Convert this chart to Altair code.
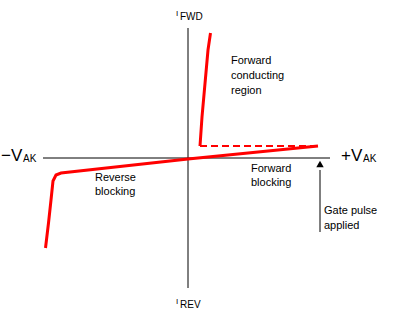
import altair as alt
import pandas as pd

# Schematic units: origin at the axes crossing
conduct_v = [1.2, 1.4, 2.0, 2.25]
conduct_i = [1.2, 4.1, 10.8, 12.5]
block_v = [-14.25, -13.95, -13.7, -13.5, -13.2, -12.7, 0.0, 13.0]
block_i = [-9.0, -6.5, -4.2, -2.3, -1.7, -1.5, -0.1, 1.2]
latch_v = [1.2, 12.8]
latch_i = [1.2, 1.2]

axis_h_v = [-14.5, 14.2]
axis_v_i = [-13.0, 13.0]

gate_v = 13.2
gate_i = [-1.2, -7.4]
gate_tip_i = -0.6

label_text = ["Forward", "conducting", "region", "Reverse", "blocking",
              "Forward", "blocking", "Gate pulse", "applied"]
label_v = [4.3, 4.3, 4.3, -9.3, -9.3, 6.3, 6.3, 13.6, 13.6]
label_i = [9.7, 8.2, 6.7, -2.0, -3.4, -1.1, -2.5, -5.3, -6.8]

big_text = ["\u2212V", "+V"]
big_v = [-18.7, 15.3]
big_i = [-0.25, -0.25]
sub_text = ["AK", "AK"]
sub_v = [-16.5, 17.5]
sub_i = [-0.35, -0.35]
cur_text = ["FWD", "REV"]
cur_v = [-0.8, -0.8]
cur_i = [14.15, -14.7]
small_text = ["I", "I"]
small_v = [-1.2, -1.2]
small_i = [14.4, -14.4]

xs = alt.Scale(domain=[-18.8, 20.6], nice=False, zero=False)
ys = alt.Scale(domain=[-15.8, 15.8], nice=False, zero=False)


def X(field="v"):
    return alt.X(f"{field}:Q", scale=xs, axis=None)


def Y(field="i"):
    return alt.Y(f"{field}:Q", scale=ys, axis=None)


conduct = pd.DataFrame({"v": conduct_v, "i": conduct_i, "o": range(len(conduct_v))})
block = pd.DataFrame({"v": block_v, "i": block_i, "o": range(len(block_v))})
latch = pd.DataFrame({"v": latch_v, "i": latch_i})

haxis = pd.DataFrame({"v": axis_h_v, "i": [0.0, 0.0]})
vaxis = pd.DataFrame({"v": [0.0, 0.0], "i": axis_v_i})
gate = pd.DataFrame({"v": [gate_v, gate_v], "i": gate_i})
tip = pd.DataFrame({"v": [gate_v], "i": [gate_tip_i]})

labels = pd.DataFrame({"t": label_text, "v": label_v, "i": label_i})
bigs = pd.DataFrame({"t": big_text, "v": big_v, "i": big_i})
subs = pd.DataFrame({"t": sub_text, "v": sub_v, "i": sub_i})
curs = pd.DataFrame({"t": cur_text, "v": cur_v, "i": cur_i})
smalls = pd.DataFrame({"t": small_text, "v": small_v, "i": small_i})

font = "Liberation Sans"

axes = (
    alt.Chart(haxis).mark_line(color="black", strokeWidth=1).encode(x=X(), y=Y())
    + alt.Chart(vaxis).mark_line(color="black", strokeWidth=1).encode(x=X(), y=Y())
)

red = "#ff0000"
curves = (
    alt.Chart(block).mark_line(color=red, strokeWidth=3).encode(x=X(), y=Y(), order="o:Q")
    + alt.Chart(conduct).mark_line(color=red, strokeWidth=3).encode(x=X(), y=Y(), order="o:Q")
    + alt.Chart(latch).mark_line(color=red, strokeWidth=2, strokeDash=[7, 4]).encode(x=X(), y=Y())
)

arrow = (
    alt.Chart(gate).mark_line(color="black", strokeWidth=1).encode(x=X(), y=Y())
    + alt.Chart(tip).mark_point(shape="triangle-up", filled=True, color="black", size=55, opacity=1).encode(x=X(), y=Y())
)

texts = (
    alt.Chart(labels).mark_text(align="left", baseline="middle", font=font, fontSize=11, color="black").encode(x=X(), y=Y(), text="t:N")
    + alt.Chart(bigs).mark_text(align="left", baseline="alphabetic", font=font, fontSize=17, color="black").encode(x=X(), y=Y(), text="t:N")
    + alt.Chart(subs).mark_text(align="left", baseline="alphabetic", font=font, fontSize=10, color="black").encode(x=X(), y=Y(), text="t:N")
    + alt.Chart(curs).mark_text(align="left", baseline="middle", font=font, fontSize=10, color="black").encode(x=X(), y=Y(), text="t:N")
    + alt.Chart(smalls).mark_text(align="left", baseline="middle", font=font, fontSize=8, color="black").encode(x=X(), y=Y(), text="t:N")
)

chart = (
    alt.layer(axes, curves, arrow, texts)
    .properties(width=394, height=316, autosize=alt.AutoSizeParams(type="none"), padding=0,
                background="white")
    .configure_view(stroke=None)
)

chart.save("out.html", embed_options={"renderer": "svg", "actions": False})
